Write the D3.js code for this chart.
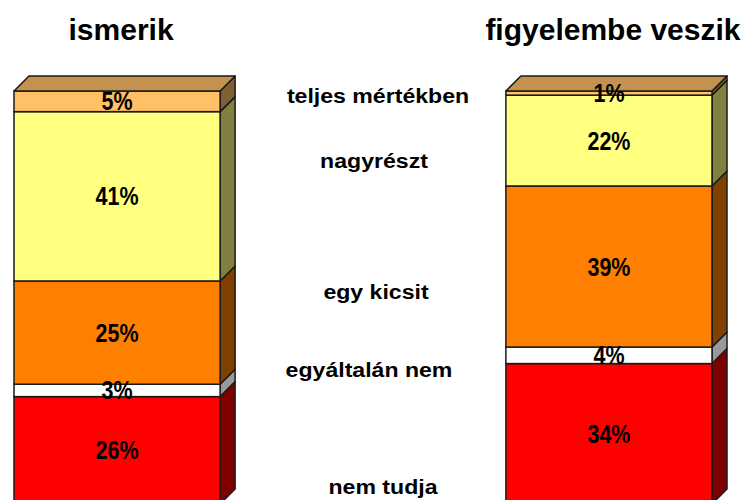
<!DOCTYPE html>
<html>
<head>
  <meta charset="utf-8">
  <title>ismerik / figyelembe veszik</title>
  <script src="https://d3js.org/d3.v7.min.js"></script>
  <style>
    body { margin: 0; background: #fff; }
    text { font-family: "Liberation Sans", Arial, Helvetica, sans-serif; font-weight: bold; fill: #000; }
  </style>
</head>
<body>
  <svg id="main-svg"></svg>

  <script type="text/javascript">
    // data, bottom to top
    const categories = ["nem tudja", "egyáltalán nem", "egy kicsit", "nagyrészt", "teljes mértékben"];
    const groups = ["ismerik", "figyelembe veszik"];
    const ismerikValues = [26, 3, 25, 41, 5];
    const figyelembeValues = [34, 4, 39, 22, 1];

    // colours per category (front face, side face)
    const frontColors = ["#FF0000", "#FFFFFF", "#FF8000", "#FFFF80", "#FFC066"];
    const sideColors = ["#800000", "#999999", "#804000", "#808040", "#806033"];
    const topColor = "#C4914F";

    // where the category names sit (px, baseline)
    const categoryLabelY = [494, 377, 299, 168, 103];
    const categoryLabelX = [383, 369, 376, 374, 378];

    const svg_width = 745;
    const svg_height = 500;
    const depth = 15;

    const svg = d3.select("#main-svg")
      .attr("width", svg_width)
      .attr("height", svg_height);

    var x = d3.scaleBand()
      .domain(groups)
      .range([14, 712])
      .paddingInner(0.581)
      .paddingOuter(0);

    var y = d3.scaleLinear()
      .domain([0, 100])
      .range([504, 91]);

    const series = [ismerikValues, figyelembeValues];

    groups.forEach(function(g, gi) {
      const vals = series[gi];
      let cum = 0;
      const segs = vals.map(function(v, i) {
        const s = { i: i, v: v, y0: cum, y1: cum + v };
        cum += v;
        return s;
      });

      const bar = svg.append("g").attr("class", "bar");
      const xl = x(g);
      const xr = x(g) + x.bandwidth();

      // side faces
      bar.selectAll(".side")
        .data(segs)
        .enter().append("polygon")
        .attr("class", "side")
        .attr("points", function(d) {
          return [
            [xr, y(d.y1)],
            [xr + depth, y(d.y1) - depth],
            [xr + depth, y(d.y0) - depth],
            [xr, y(d.y0)]
          ].join(" ");
        })
        .style("fill", function(d) { return sideColors[d.i]; })
        .style("stroke", "#1a1a1a")
        .style("stroke-width", 1.5)
        .style("stroke-linejoin", "round");

      // front faces
      bar.selectAll(".front")
        .data(segs)
        .enter().append("rect")
        .attr("class", "front")
        .attr("x", xl)
        .attr("y", function(d) { return y(d.y1); })
        .attr("width", x.bandwidth())
        .attr("height", function(d) { return y(d.y0) - y(d.y1); })
        .style("fill", function(d) { return frontColors[d.i]; })
        .style("stroke", "#1a1a1a")
        .style("stroke-width", 1.5);

      // top face
      const yt = y(cum);
      bar.append("polygon")
        .attr("points", [
          [xl, yt],
          [xl + depth, yt - depth],
          [xr + depth, yt - depth],
          [xr, yt]
        ].join(" "))
        .style("fill", topColor)
        .style("stroke", "#1a1a1a")
        .style("stroke-width", 1.5)
        .style("stroke-linejoin", "round");

      // percent labels
      bar.selectAll(".pct")
        .data(segs)
        .enter().append("text")
        .attr("class", "pct")
        .attr("transform", function(d) {
          return "translate(" + (xl + x.bandwidth() / 2) + "," + ((y(d.y0) + y(d.y1)) / 2 + 9) + ") scale(0.86,1)";
        })
        .attr("text-anchor", "middle")
        .style("font-size", "25px")
        .text(function(d) { return d.v + "%"; });

      // group title
      svg.append("text")
        .attr("x", xl + x.bandwidth() / 2 + 4)
        .attr("y", 40)
        .attr("text-anchor", "middle")
        .style("font-size", "30px")
        .text(g);
    });

    // category names between the bars
    svg.selectAll(".cat")
      .data(categories)
      .enter().append("text")
      .attr("class", "cat")
      .attr("transform", function(d, i) {
        return "translate(" + categoryLabelX[i] + "," + categoryLabelY[i] + ") scale(1.1,1)";
      })
      .attr("text-anchor", "middle")
      .style("font-size", "21px")
      .text(function(d) { return d; });
  </script>
</body>
</html>
